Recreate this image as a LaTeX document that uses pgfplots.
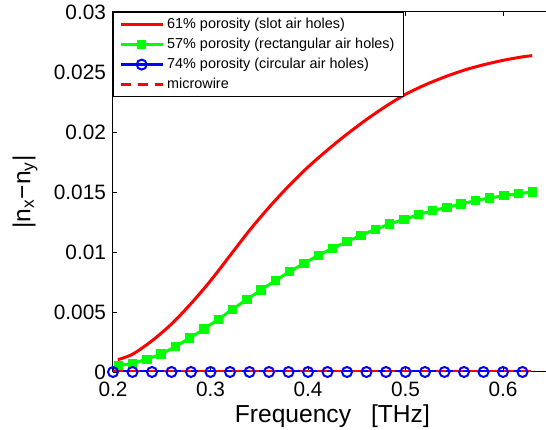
\documentclass[border=0pt]{standalone}
\usepackage{fontspec}
\setmainfont{Liberation Sans}
\usepackage{pgfplots}
\pgfplotsset{compat=1.18}
\definecolor{mred}{rgb}{1,0,0}
\definecolor{mgreen}{rgb}{0,1,0}
\definecolor{mblue}{rgb}{0,0,1}
\begin{document}
\begin{tikzpicture}
\begin{axis}[
  scale only axis, width=219.375pt, height=180pt,
  xmin=0.2, xmax=0.65, ymin=0, ymax=0.03,
  xtick={0.2,0.3,0.4,0.5,0.6},
  ytick={0,0.005,0.01,0.015,0.02,0.025,0.03},
  scaled ticks=false,
  tick align=inside,
  major tick length=2pt,
  tick style={black, line width=0.4pt},
  axis line style={line width=0.5pt},
  /pgf/number format/assume math mode=true,
  xticklabel style={/pgf/number format/fixed, /pgf/number format/precision=1, font=\fontsize{10.4}{12}\selectfont, yshift=-1.5pt},
  yticklabel style={/pgf/number format/fixed, /pgf/number format/precision=3, font=\fontsize{10.4}{12}\selectfont},
  xlabel={Frequency\hspace{10pt}[THz]},
  ylabel={|n\textsubscript{x}−n\textsubscript{y}|},
  label style={font=\fontsize{12.3}{14}\selectfont},
  xlabel style={at={(axis description cs:0.5,-0.122)}, anchor=center},
  ylabel style={at={(axis description cs:-0.2006,0.5)}, anchor=center},
  legend cell align=left,
  legend style={at={(0,1)}, anchor=north west, draw=black, line width=0.5pt,
    font=\fontsize{7.2}{8.5}\selectfont, inner xsep=2.85pt, inner ysep=1.3pt,
    row sep=0pt,
    nodes={text height=5.4pt, text depth=1.5pt, inner sep=1.5pt}},
  legend image code/.code={\draw[mark repeat=2,mark phase=2,#1] plot coordinates {(0pt,0pt) (10.5pt,0pt) (21pt,0pt)};},
]
\addplot[mred, line width=1.5pt, smooth] table {
x y
0.205 0.00103
0.22 0.00148
0.24 0.0026
0.26 0.0040
0.28 0.0057
0.30 0.0076
0.32 0.0097
0.34 0.0118
0.36 0.01372
0.38 0.01548
0.40 0.01708
0.42 0.0185
0.44 0.01982
0.46 0.02104
0.48 0.02215
0.50 0.02314
0.52 0.02392
0.54 0.02458
0.56 0.02515
0.58 0.0256
0.60 0.02597
0.62 0.02626
0.63 0.02636
};
\addlegendentry{61\% porosity (slot air holes)}
\addplot[mgreen, line width=1.5pt, mark=square*, mark size=1.6pt, mark options={solid}] table {
x y
0.2054 0.00053
0.2201 0.00072
0.2347 0.00106
0.2494 0.0015
0.2640 0.00211
0.2787 0.00283
0.2933 0.00358
0.3080 0.00439
0.3226 0.00522
0.3373 0.00606
0.3520 0.00683
0.3666 0.00764
0.3813 0.00836
0.3959 0.00906
0.4106 0.00972
0.4252 0.01031
0.4399 0.01086
0.4545 0.01139
0.4692 0.01189
0.4838 0.01233
0.4985 0.01272
0.5132 0.01311
0.5278 0.01344
0.5425 0.01372
0.5571 0.0140
0.5718 0.01428
0.5864 0.0145
0.6011 0.01469
0.6157 0.01486
0.6304 0.0150
};
\addlegendentry{57\% porosity (rectangular air holes)}
\addplot[mblue, line width=1.5pt, mark=o, mark size=2.5pt, mark options={line width=1pt}] coordinates {
(0.20,0) (0.22,0) (0.24,0) (0.26,0) (0.28,0) (0.30,0) (0.32,0) (0.34,0)
(0.36,0) (0.38,0) (0.40,0) (0.42,0) (0.44,0) (0.46,0) (0.48,0) (0.50,0)
(0.52,0) (0.54,0) (0.56,0) (0.58,0) (0.60,0) (0.62,0)
};
\addlegendentry{74\% porosity (circular air holes)}
\addplot[mred, line width=1.5pt, dash pattern=on 5pt off 3.5pt] coordinates {
(0.2,0) (0.63,0)
};
\addlegendentry{microwire}
\end{axis}
\pgfresetboundingbox
\path[use as bounding box] ([xshift=-56.5pt,yshift=-29pt]current axis.south west) rectangle ([xshift=216.5pt,yshift=6pt]current axis.north west);
\end{tikzpicture}
\end{document}
